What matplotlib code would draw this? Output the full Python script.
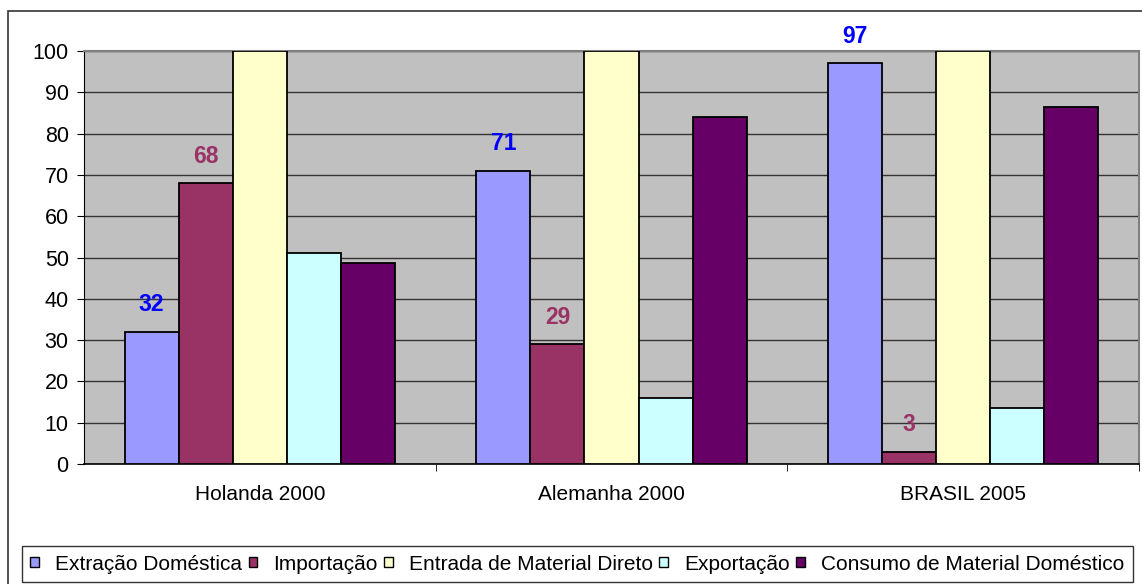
import numpy as np
import matplotlib
matplotlib.use("Agg")
import matplotlib.pyplot as plt
from matplotlib.patches import Rectangle, Patch

plt.rcParams['font.family'] = ['Liberation Sans', 'DejaVu Sans']

categorias = ['Holanda 2000', 'Alemanha 2000', 'BRASIL 2005']
series = ['Extração Doméstica', 'Importação', 'Entrada de Material Direto',
          'Exportação', 'Consumo de Material Doméstico']
extracao = [32, 71, 97]
importacao = [68, 29, 3]
entrada = [100, 100, 100]
exportacao = [51, 16, 13.5]
consumo = [48.7, 84, 86.5]
cores = ['#9999FF', '#993366', '#FFFFCC', '#CCFFFF', '#660066']

valores = [extracao, importacao, entrada, exportacao, consumo]

fig = plt.figure(figsize=(11.42, 5.84), dpi=100)
# moldura externa do grafico (estilo Excel)
fig.patches.append(Rectangle((8/1142, -0.01), 1.05, 1 - 11/584 + 0.01,
                             transform=fig.transFigure, fill=False,
                             edgecolor='#333333', linewidth=1.2))

ax = fig.add_axes([84/1142, 1 - 464/584, (1139 - 84)/1142, (464 - 51)/584])
ax.set_facecolor('#C0C0C0')

x = np.arange(len(categorias))
largura = 1 / 6.5
for i, (vals, cor) in enumerate(zip(valores, cores)):
    pos = x + (i - 2) * largura
    ax.bar(pos, vals, width=largura, color=cor, edgecolor='black',
           linewidth=1.3, zorder=3)

# rotulos de dados
for xi, v in zip(x, extracao):
    ax.text(xi - 2 * largura, v + 6.5, str(v), ha='center', va='center',
            color='#0000FF', fontsize=16.5, fontweight='bold', zorder=4,
            clip_on=False)
for xi, v in zip(x, importacao):
    ax.text(xi - 1 * largura, v + 6.5, str(v), ha='center', va='center',
            color='#993366', fontsize=16.5, fontweight='bold', zorder=4)

ax.set_xlim(-0.5, 2.5)
ax.set_ylim(0, 100)
ax.set_yticks(np.arange(0, 101, 10))
ax.yaxis.grid(True, color='#333333', linewidth=1.0, zorder=1)
ax.set_xticks(x)
ax.set_xticklabels(categorias)
ax.set_xticks([0.5, 1.5, 2.5], minor=True)
ax.tick_params(axis='x', which='major', length=0, pad=15, labelsize=15)
ax.tick_params(axis='x', which='minor', length=5, direction='out')
ax.tick_params(axis='y', length=5, direction='out', labelsize=15.5, pad=6)

for s in ['top', 'right']:
    ax.spines[s].set_color('#808080')
    ax.spines[s].set_linewidth(1.5)
ax.spines['left'].set_color('black')
ax.spines['bottom'].set_color('black')
ax.spines['bottom'].set_linewidth(1.2)

handles = [Patch(facecolor=c, edgecolor='black', linewidth=1.0, label=s)
           for c, s in zip(cores, series)]
leg = fig.legend(handles=handles, loc='lower left', ncol=5,
                 bbox_to_anchor=(22/1142, 2/584), fontsize=15, frameon=True,
                 fancybox=False, edgecolor='black', handlelength=0.4,
                 handleheight=0.4, handletextpad=0.8, columnspacing=0.3,
                 borderpad=0.4, borderaxespad=0)
leg.get_frame().set_linewidth(1.0)

fig.savefig('out.png', dpi=100)
